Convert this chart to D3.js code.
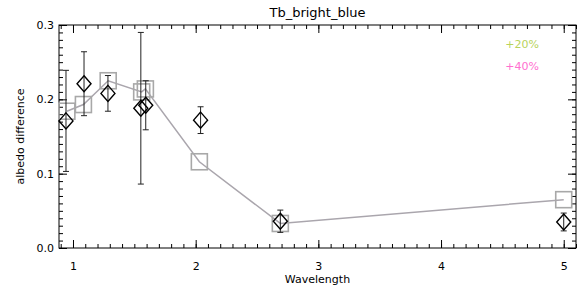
<!DOCTYPE html>
<html>
<head>
<meta charset="utf-8">
<script src="https://cdn.jsdelivr.net/npm/d3@7"></script>
<style>
  body { margin: 0; background: #fff; }
  svg text { font-family: "DejaVu Sans", sans-serif; }
</style>
</head>
<body>
<svg id="chart"></svg>
<script>
// observed points (diamonds) with error bars
var obsX   = [0.943, 1.09, 1.285, 1.553, 1.593, 2.04, 2.69, 5.0];
var obsY   = [0.171, 0.221, 0.208, 0.188, 0.192, 0.172, 0.036, 0.035];
var obsErr = [0.068, 0.043, 0.024, 0.102, 0.033, 0.018, 0.015, 0.012];

// model (squares + line)
var modX = [0.95, 1.085, 1.287, 1.56, 1.59, 2.03, 2.69, 5.0];
var modY = [0.184, 0.193, 0.225, 0.210, 0.214, 0.116, 0.033, 0.065];

var xTicks = [1, 2, 3, 4, 5];
var yTicks = [0.0, 0.1, 0.2, 0.3];
var legendLabels = ["+20%", "+40%"];
var legendColors = ["#b8d35c", "#ff6fd0"];

var svgWidth = 588, svgHeight = 293;
var margin = { top: 25, right: 12, bottom: 45, left: 59 };
var width = svgWidth - margin.left - margin.right;
var height = svgHeight - margin.top - margin.bottom;

var svg = d3.select("#chart")
    .attr("width", svgWidth)
    .attr("height", svgHeight);

var g = svg.append("g")
    .attr("transform", "translate(" + margin.left + "," + margin.top + ")");

var x = d3.scaleLinear().domain([0.886, 5.1]).range([0, width]);
var y = d3.scaleLinear().domain([0, 0.3]).range([height, 0]);

var xMinor = d3.range(9, 52).map(function(d) { return d / 10; }).filter(function(d) { return d >= 0.886 && d <= 5.1; });
var yMinor = d3.range(0, 31).map(function(d) { return d / 100; });

function styleAxis(sel) {
    sel.select(".domain").remove();
    sel.selectAll("line").attr("stroke", "#000").attr("stroke-width", 1);
}

// minor ticks (inward on all sides)
g.append("g").attr("transform", "translate(0," + height + ")")
    .call(d3.axisBottom(x).tickValues(xMinor).tickSize(-4).tickFormat(""))
    .call(styleAxis);
g.append("g")
    .call(d3.axisTop(x).tickValues(xMinor).tickSize(-4).tickFormat(""))
    .call(styleAxis);
g.append("g")
    .call(d3.axisLeft(y).tickValues(yMinor).tickSize(-4).tickFormat(""))
    .call(styleAxis);
g.append("g").attr("transform", "translate(" + width + ",0)")
    .call(d3.axisRight(y).tickValues(yMinor).tickSize(-4).tickFormat(""))
    .call(styleAxis);

// major ticks
var xb = g.append("g").attr("transform", "translate(0," + height + ")")
    .call(d3.axisBottom(x).tickValues(xTicks).tickSize(-8).tickPadding(14).tickFormat(d3.format("d")))
    .call(styleAxis);
xb.selectAll("text").attr("font-size", 11).attr("fill", "#000");
g.append("g")
    .call(d3.axisTop(x).tickValues(xTicks).tickSize(-8).tickFormat(""))
    .call(styleAxis);
var yl = g.append("g")
    .call(d3.axisLeft(y).tickValues(yTicks).tickSize(-8).tickPadding(5).tickFormat(d3.format(".1f")))
    .call(styleAxis);
yl.selectAll("text").attr("font-size", 11).attr("fill", "#000");
g.append("g").attr("transform", "translate(" + width + ",0)")
    .call(d3.axisRight(y).tickValues(yTicks).tickSize(-8).tickFormat(""))
    .call(styleAxis);

// frame
g.append("rect")
    .attr("width", width).attr("height", height)
    .attr("fill", "none").attr("stroke", "#000").attr("stroke-width", 1);

// model line and squares
var model = modX.map(function(d, i) { return { x: d, y: modY[i] }; });
var line = d3.line()
    .x(function(d) { return x(d.x); })
    .y(function(d) { return y(d.y); });

g.append("path")
    .datum(model)
    .attr("fill", "none")
    .attr("stroke", "#aaa6ad")
    .attr("stroke-width", 1.5)
    .attr("d", line);

g.selectAll(".sq")
    .data(model)
    .enter().append("rect")
    .attr("x", function(d) { return x(d.x) - 8; })
    .attr("y", function(d) { return y(d.y) - 8; })
    .attr("width", 16).attr("height", 16)
    .attr("fill", "none")
    .attr("stroke", "#a8a8a8")
    .attr("stroke-width", 1.6);

// observations
var obs = obsX.map(function(d, i) { return { x: d, y: obsY[i], e: obsErr[i] }; });

var eb = g.selectAll(".eb").data(obs).enter().append("g")
    .attr("stroke", "#222").attr("stroke-width", 1);
eb.append("line")
    .attr("x1", function(d) { return x(d.x); })
    .attr("x2", function(d) { return x(d.x); })
    .attr("y1", function(d) { return y(d.y - d.e); })
    .attr("y2", function(d) { return y(d.y + d.e); });
eb.append("line")
    .attr("x1", function(d) { return x(d.x) - 3; })
    .attr("x2", function(d) { return x(d.x) + 3; })
    .attr("y1", function(d) { return y(d.y + d.e); })
    .attr("y2", function(d) { return y(d.y + d.e); });
eb.append("line")
    .attr("x1", function(d) { return x(d.x) - 3; })
    .attr("x2", function(d) { return x(d.x) + 3; })
    .attr("y1", function(d) { return y(d.y - d.e); })
    .attr("y2", function(d) { return y(d.y - d.e); });

g.selectAll(".dm")
    .data(obs)
    .enter().append("path")
    .attr("transform", function(d) { return "translate(" + x(d.x) + "," + y(d.y) + ")"; })
    .attr("d", "M0,-8L7,0L0,8L-7,0Z")
    .attr("fill", "none")
    .attr("stroke", "#000")
    .attr("stroke-width", 1.4);

// legend texts
g.selectAll(".leg")
    .data(legendLabels)
    .enter().append("text")
    .attr("x", width - 37)
    .attr("y", function(d, i) { return 23 + i * 22; })
    .attr("text-anchor", "end")
    .attr("font-size", 11)
    .attr("fill", function(d, i) { return legendColors[i]; })
    .text(function(d) { return d; });

// titles
svg.append("text")
    .attr("x", margin.left + width / 2)
    .attr("y", 17)
    .attr("text-anchor", "middle")
    .attr("font-size", 13)
    .attr("fill", "#000")
    .text("Tb_bright_blue");

svg.append("text")
    .attr("x", margin.left + width / 2)
    .attr("y", 283)
    .attr("text-anchor", "middle")
    .attr("font-size", 11)
    .attr("fill", "#000")
    .text("Wavelength");

svg.append("text")
    .attr("transform", "translate(24," + (margin.top + height / 2) + ") rotate(-90)")
    .attr("text-anchor", "middle")
    .attr("font-size", 11)
    .attr("fill", "#000")
    .text("albedo difference");
</script>
</body>
</html>
